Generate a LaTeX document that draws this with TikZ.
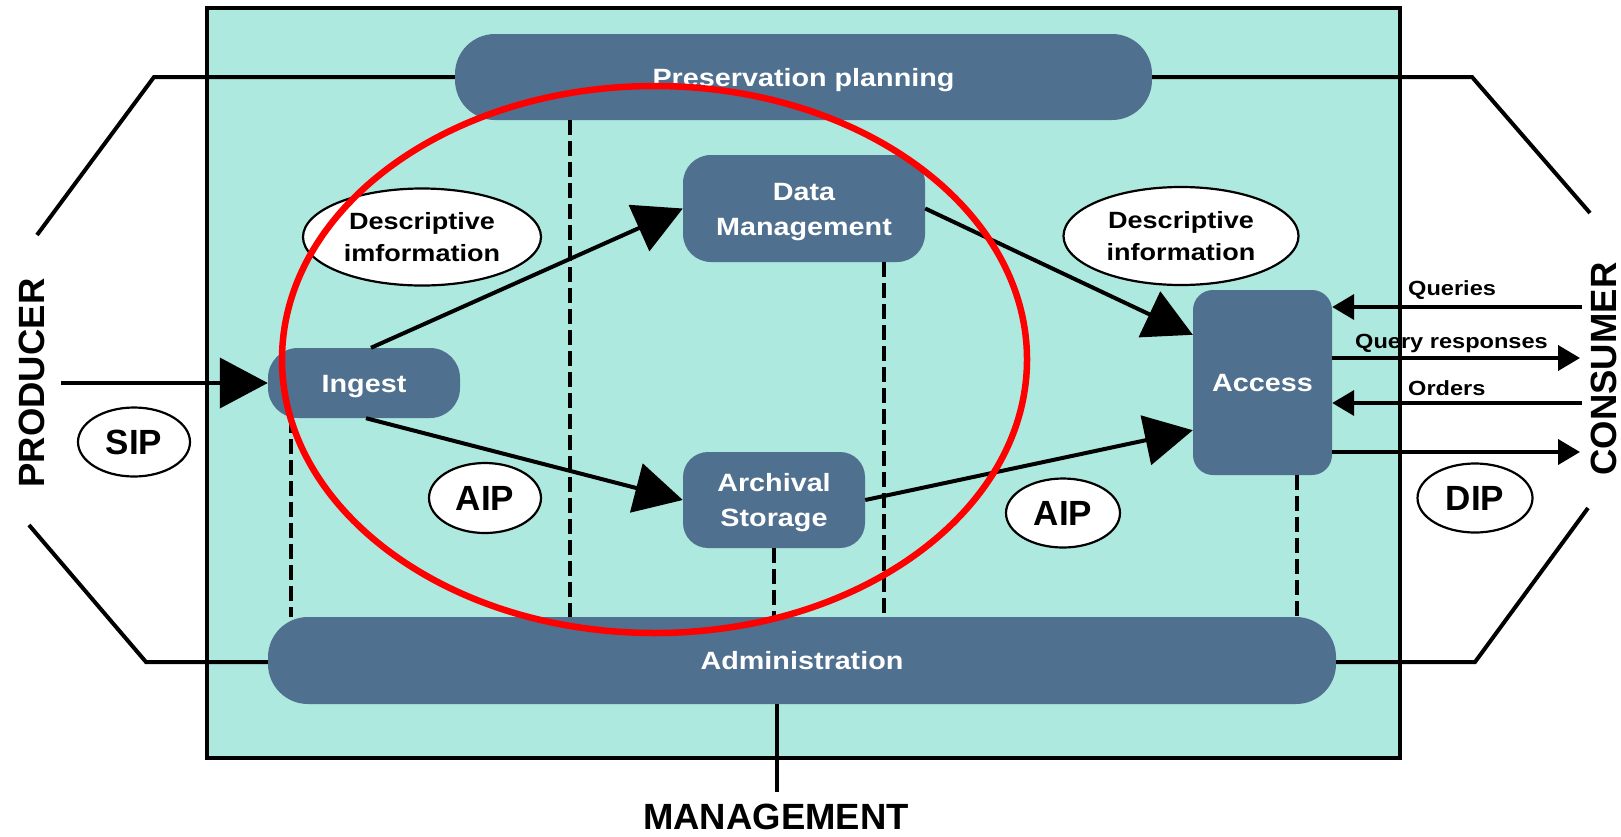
\documentclass[tikz,border=0pt]{standalone}
\usepackage{fontspec}
\setmainfont{Liberation Sans}
\newfontfamily\wfont[FakeStretch=1.15]{Liberation Sans}
\usetikzlibrary{arrows.meta,calc,shapes.geometric}
\definecolor{tealbg}{HTML}{AEE9DF}
\definecolor{boxblue}{HTML}{50708F}
\begin{document}
\begin{tikzpicture}[x=1pt,y=-1pt,
  proc/.style={fill=boxblue, draw=none, text=white, align=center, inner sep=0pt,
    text height=18pt, text depth=0pt,
    font=\wfont\bfseries\fontsize{25}{35}\selectfont},
  twoline/.style={text height=53pt},
  info/.style={ellipse, draw=black, line width=2.2pt, fill=white, inner sep=0pt, align=center,
    text height=49pt, text depth=0pt,
    font=\wfont\bfseries\fontsize{23.5}{32}\selectfont},
  pkg/.style={ellipse, draw=black, line width=2.2pt, fill=white, inner sep=0pt,
    text height=25pt, text depth=0pt,
    font=\bfseries\fontsize{35}{40}\selectfont},
  side/.style={inner sep=0pt, font=\bfseries\fontsize{36.5}{40}\selectfont},
  lbl/.style={inner sep=0pt, font=\wfont\bfseries\fontsize{20.5}{24}\selectfont},
  conn/.style={draw=black, line width=4pt},
  flow/.style={draw=black, line width=4pt, -{Triangle[length=48pt,width=50pt]}},
  cflow/.style={draw=black, line width=4pt, -{Triangle[length=22pt,width=25pt]}},
  dashline/.style={draw=black, line width=3.7pt, dash pattern=on 15pt off 6pt}
]
\useasboundingbox (0,0) rectangle (1621,836);

% main box
\node[draw=black, line width=4pt, fill=tealbg, minimum width=1193pt, minimum height=750pt, inner sep=0pt] (sys) at (803.5,383) {};

% functional entities
\node[proc, minimum width=697pt, minimum height=86pt, rounded corners=40pt] (pp) at (803.5,77) {Preservation planning};
\node[proc, minimum width=1068pt, minimum height=87pt, rounded corners=40pt] (admin) at (802,660.5) {Administration};
\node[proc, minimum width=192pt, minimum height=70pt, rounded corners=30pt] (ingest) at (364,383) {Ingest};
\node[proc, twoline, minimum width=242pt, minimum height=107pt, rounded corners=28pt] (dm) at (804,208.5) {Data\\Management};
\node[proc, twoline, minimum width=182pt, minimum height=96pt, rounded corners=25pt] (as) at (774,500) {Archival\\Storage};
\node[proc, minimum width=139pt, minimum height=185pt, rounded corners=20pt] (access) at (1262.5,382.5) {Access};

% information packages
\node[info, minimum width=238pt, minimum height=97pt] (desc1) at (422,237) {Descriptive\\imformation};
\node[info, minimum width=235pt, minimum height=98pt] (desc2) at (1181,236) {Descriptive\\information};
\node[pkg, minimum width=112pt, minimum height=69pt] (sip) at (134,442) {SIP};
\node[pkg, minimum width=112pt, minimum height=70pt] (aip1) at (485,498) {AIP};
\node[pkg, minimum width=114pt, minimum height=69pt] (aip2) at (1063,513) {AIP};
\node[pkg, minimum width=115pt, minimum height=69pt] (dip) at (1475,498) {DIP};

% outer labels
\node[side, rotate=90] (producer) at (32,383) {PRODUCER};
\node[side, rotate=90, anchor=south] (consumer) at (1617,369) {CONSUMER};
\node[side, anchor=base] (mgmt) at (776,829) {MANAGEMENT};

% outer connectors
\coordinate (ltc) at (154,77);  \coordinate (lte) at (37,235);
\coordinate (rtc) at (1472,77); \coordinate (rte) at (1590,213);
\coordinate (lbc) at (146,662); \coordinate (lbe) at (29,525);
\coordinate (rbc) at (1475,662); \coordinate (rbe) at (1588,508);
\draw[conn] (pp.west) -- (ltc) -- (lte);
\draw[conn] (pp.east) -- (rtc) -- (rte);
\draw[conn] (admin.west |- lbc) -- (lbc) -- (lbe);
\draw[conn] (admin.east |- rbc) -- (rbc) -- (rbe);
\coordinate (mgend) at (777,792);
\draw[conn] (admin.south -| mgend) -- (mgend);

% dashed links to administration
\draw[dashline] (ingest.south -| 291,0) -- (admin.north -| 291,0);
\draw[dashline] (pp.south -| 570,0) -- (admin.north -| 570,0);
\draw[dashline] (dm.south -| 884,0) -- (admin.north -| 884,0);
\draw[dashline] (as.south -| 774,0) -- (admin.north -| 774,0);
\draw[dashline] (access.south -| 1297,0) -- (admin.north -| 1297,0);

% main flows
\coordinate (prodin) at (61,383);
\draw[flow] (prodin) -- (ingest.west |- prodin);
\draw[flow] ($(ingest.north)+(7,0)$) -- (dm.west);
\draw[flow] ($(ingest.south)+(2,0)$) -- (as.west);
\draw[flow] (dm.east) -- ($(access.north west)+(0,45)$);
\draw[flow] (as.east) -- ($(access.south west)+(0,-45)$);

% consumer flows
\coordinate (cq) at (1582,307);
\coordinate (cr) at (1580,358);
\coordinate (co) at (1582,403);
\coordinate (cd) at (1580,452);
\draw[cflow] (cq) -- (cq -| access.east);
\draw[cflow] (cr -| access.east) -- (cr);
\draw[cflow] (co) -- (co -| access.east);
\draw[cflow] (cd -| access.east) -- (cd);
\node[lbl, anchor=base west] (lq) at (1408,295) {Queries};
\node[lbl, anchor=base west] (lr) at (1355,348) {Query responses};
\node[lbl, anchor=base west] (lo) at (1408,395) {Orders};

% red highlight
\draw[red, line width=6.5pt] (654.5,359.5) ellipse [x radius=372.5pt, y radius=273.5pt];
\end{tikzpicture}
\end{document}
